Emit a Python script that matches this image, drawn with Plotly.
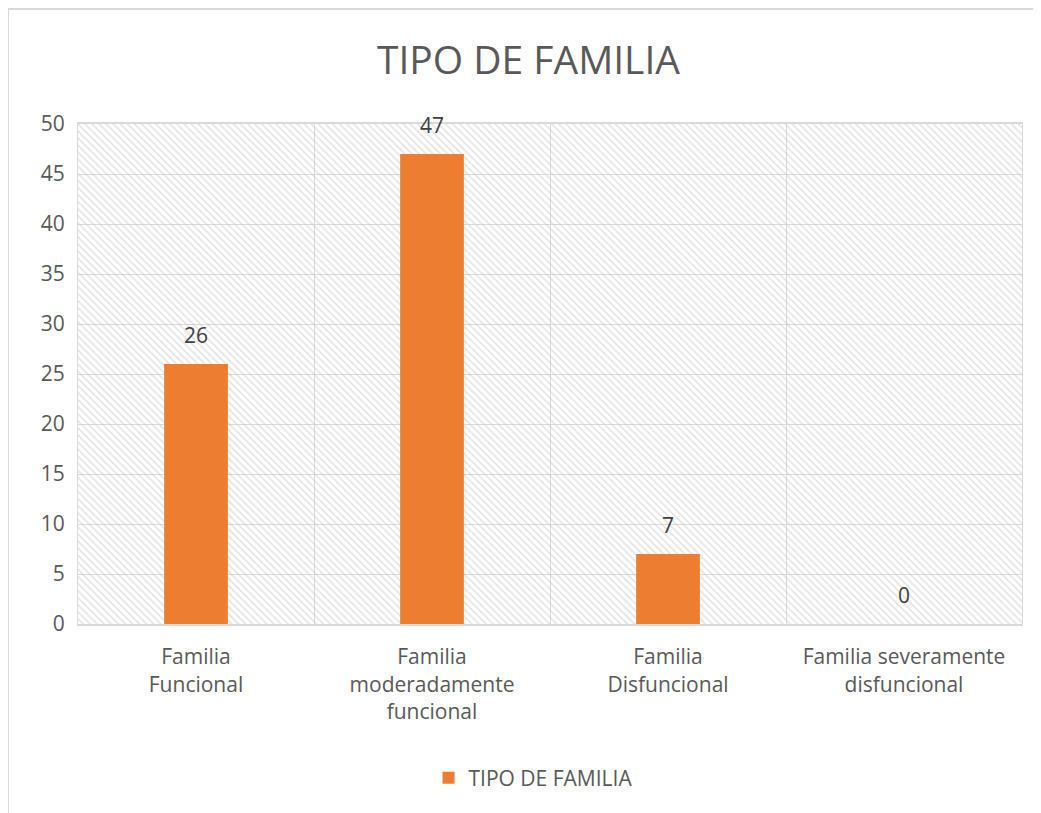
import plotly.graph_objects as go

categories = ["Familia<br>Funcional", "Familia<br>moderadamente<br>funcional",
              "Familia<br>Disfuncional", "Familia severamente<br>disfuncional"]
values = [26, 47, 7, 0]
series_name = "TIPO DE FAMILIA"
y_max = 50

font_family = "Open Sans, Liberation Sans, Arial, sans-serif"
text_color = "#595959"
grid_color = "#d9d9d9"

fig = go.Figure()

# hatched plot-area background
fig.add_trace(go.Bar(
    x=categories, y=[y_max] * len(categories), width=1,
    marker=dict(color="rgba(0,0,0,0)", line=dict(width=0),
                pattern=dict(shape="\\", fgcolor="#c8c8c8", bgcolor="rgba(0,0,0,0)",
                             size=5, solidity=0.32)),
    showlegend=False, hoverinfo="skip",
))

fig.add_trace(go.Bar(
    x=categories, y=values, name=series_name, width=0.27,
    marker=dict(color="#ED7D31", line=dict(width=0)),
    hoverinfo="x+y",
))

annotations = [
    dict(x=c, y=v, xref="x", yref="y", text=str(v), showarrow=False,
         yshift=29, yanchor="middle", font=dict(size=21, color="#404040", family=font_family))
    for c, v in zip(categories, values)
]

fig.update_layout(
    width=1041, height=813,
    barmode="overlay",
    paper_bgcolor="white", plot_bgcolor="white",
    margin=dict(l=70, r=27, t=116, b=197),
    font=dict(family=font_family, color=text_color, size=21),
    title=dict(text="TIPO DE FAMILIA", x=0.5, xanchor="center", y=0.936, yanchor="middle",
               font=dict(size=39, color=text_color, family=font_family)),
    showlegend=True,
    legend=dict(orientation="h", x=0.482, xanchor="center", y=-0.308, yanchor="middle",
                font=dict(size=21, color=text_color), itemwidth=30),
    xaxis=dict(type="category", tickson="boundaries", showgrid=True, gridcolor=grid_color,
               gridwidth=1.3, showline=True, linecolor=grid_color, linewidth=2, mirror=True,
               ticks="", tickfont=dict(size=21, color=text_color), ticklabelstandoff=13),
    yaxis=dict(range=[0, y_max], dtick=5, showgrid=True, gridcolor=grid_color, gridwidth=1.3,
               showline=True, linecolor=grid_color, linewidth=1.3, mirror=True, zeroline=False,
               ticks="", tickfont=dict(size=21, color=text_color), ticklabelstandoff=8),
    annotations=annotations,
    shapes=[dict(type="rect", xref="paper", yref="paper", x0=-0.0742, x1=1.1, y0=-0.5, y1=1.23,
                 line=dict(color=grid_color, width=2), fillcolor="rgba(0,0,0,0)", layer="below")],
)

fig.write_html("out.html")
